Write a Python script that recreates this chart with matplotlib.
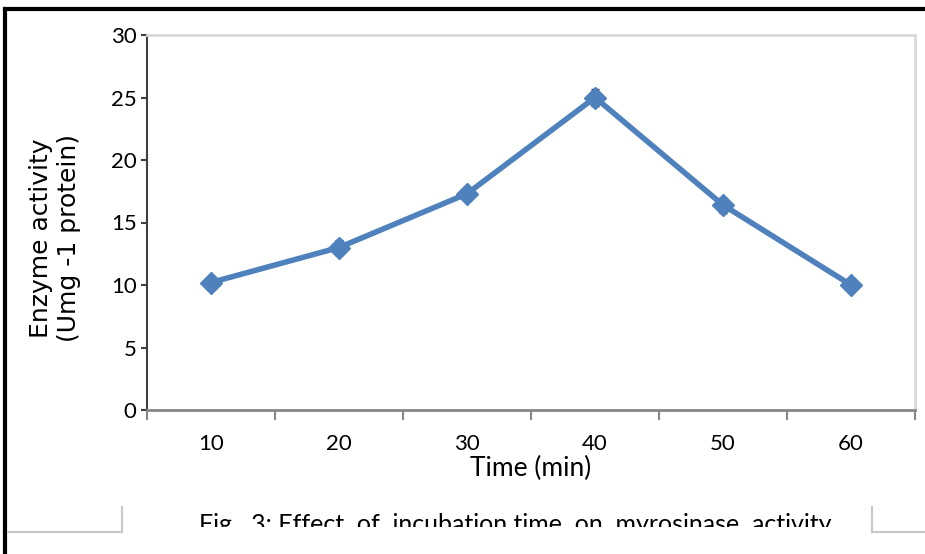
import numpy as np
import matplotlib.pyplot as plt
from matplotlib.lines import Line2D
from matplotlib.patches import Rectangle

time_labels = ['10', '20', '30', '40', '50', '60']
activity = [10.2, 13.0, 17.3, 25.0, 16.4, 10.0]
activity_err = [0.4, 0.6, 0.5, 0.7, 0.6, 0.4]

plt.rcParams['font.family'] = ['Lato', 'DejaVu Sans']

W, H = 925, 554
fig = plt.figure(figsize=(W / 100, H / 100), dpi=100)
ax = fig.add_axes([147 / W, 144 / H, 768 / W, 375 / H])

x = np.arange(1, len(activity) + 1)
ax.errorbar(x, activity, yerr=activity_err, color='#4F81BD', lw=4,
            marker='D', ms=11, mfc='#4F81BD', mec='#4F81BD',
            ecolor='#1a1a1a', elinewidth=1, capsize=3, zorder=3)

ax.set_xlim(0.5, len(activity) + 0.5)
ax.set_ylim(0, 30)
ax.set_yticks(range(0, 31, 5))
ax.set_xticks(np.arange(0.5, len(activity) + 1, 1))
ax.set_xticklabels([])
ax.set_xticks(x, minor=True)
ax.set_xticklabels(time_labels, minor=True)
ax.tick_params(axis='x', which='major', length=7.5, width=1.5, color='#868686', direction='out')
ax.tick_params(axis='x', which='minor', length=0, pad=17, labelsize=16)
ax.tick_params(axis='y', length=4.5, width=1.5, color='#404040', pad=3, labelsize=16)

ax.spines['left'].set_color('#404040')
ax.spines['left'].set_linewidth(1.5)
ax.spines['bottom'].set_color('#868686')
ax.spines['bottom'].set_linewidth(2)
for s in ('top', 'right'):
    ax.spines[s].set_color('#d9d9d9')
    ax.spines[s].set_linewidth(2)

ax.set_xlabel('Time (min)', fontsize=19, labelpad=2)
fig.text(55 / W, 1 - 238 / H, 'Enzyme activity\n(Umg -1 protein)', rotation=90,
         ha='center', va='center', multialignment='center', fontsize=18,
         family='DejaVu Sans', linespacing=1.2)

# page frame and text box corners around the caption
fig.add_artist(Line2D([5 / W, 1], [1 - 9 / H, 1 - 9 / H], color='black', lw=3))
fig.add_artist(Line2D([5 / W, 5 / W], [0, 1 - 9 / H], color='black', lw=3))

fig.text(515 / W, 1 - 532 / H, 'Fig   3: Effect  of  incubation time  on  myrosinase  activity',
         ha='center', va='baseline', fontsize=18)
fig.add_artist(Rectangle((124 / W, 0), 746 / W, 1 - 527 / H, facecolor='white',
                         edgecolor='none', transform=fig.transFigure, zorder=5))
for xs, ys in [([8, 122], [532, 532]), ([122, 122], [507, 532]),
               ([872, 925], [532, 532]), ([872, 872], [507, 532])]:
    fig.add_artist(Line2D([v / W for v in xs], [1 - v / H for v in ys],
                          color='#c8c8c8', lw=1.5, zorder=6))

fig.savefig('out.png', dpi=100)
